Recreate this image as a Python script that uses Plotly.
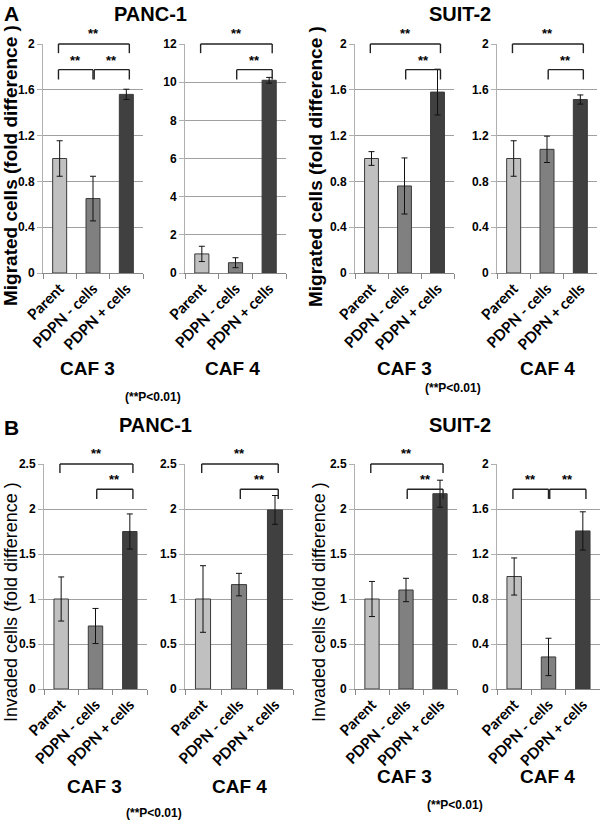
import plotly.graph_objects as go

# ---------------- data ----------------
categories = ["Parent", "PDPN - cells", "PDPN + cells"]
bar_colors = ["#c0c0c0", "#808080", "#404040"]

# A: migration
mig_panc_caf3 = [1.00, 0.65, 1.56]
mig_panc_caf3_err = [0.155, 0.195, 0.045]
mig_panc_caf4 = [1.00, 0.54, 10.10]
mig_panc_caf4_err = [0.40, 0.26, 0.15]
mig_suit_caf3 = [1.00, 0.76, 1.58]
mig_suit_caf3_err = [0.06, 0.245, 0.20]
mig_suit_caf4 = [1.00, 1.08, 1.515]
mig_suit_caf4_err = [0.155, 0.115, 0.04]

# B: invasion
inv_panc_caf3 = [1.00, 0.70, 1.75]
inv_panc_caf3_err = [0.245, 0.195, 0.195]
inv_panc_caf4 = [1.00, 1.16, 1.99]
inv_panc_caf4_err = [0.37, 0.125, 0.16]
inv_suit_caf3 = [1.00, 1.10, 2.17]
inv_suit_caf3_err = [0.195, 0.13, 0.15]
inv_suit_caf4 = [1.00, 0.285, 1.405]
inv_suit_caf4_err = [0.165, 0.166, 0.17]

y_max = [2, 12, 2, 2, 2.5, 2.5, 2.5, 2]
y_dtick = [0.4, 2, 0.4, 0.4, 0.5, 0.5, 0.5, 0.4]

# significance brackets: (from category, to category, level)
brackets = [
    [(0, 2, 0), (0, 1, 1), (1, 2, 1)],
    [(0, 2, 0), (1, 2, 1)],
    [(0, 2, 0), (1, 2, 1)],
    [(0, 2, 0), (1, 2, 1)],
    [(0, 2, 0), (1, 2, 1)],
    [(0, 2, 0), (1, 2, 1)],
    [(0, 2, 0), (1, 2, 1)],
    [(0, 1, 1), (1, 2, 1)],
]

values = [mig_panc_caf3, mig_panc_caf4, mig_suit_caf3, mig_suit_caf4,
          inv_panc_caf3, inv_panc_caf4, inv_suit_caf3, inv_suit_caf4]
errors = [mig_panc_caf3_err, mig_panc_caf4_err, mig_suit_caf3_err, mig_suit_caf4_err,
          inv_panc_caf3_err, inv_panc_caf4_err, inv_suit_caf3_err, inv_suit_caf4_err]

# ---------------- layout geometry (pixels) ----------------
W, H = 600, 822
x_px = [(43, 143), (185, 286), (355, 454), (497, 597),
        (44, 147), (185, 293), (355, 457), (497, 600)]
y_px_rows = [(44, 273), (464, 689)]


def fx(p):
    return p / W


def fy(p):
    return 1 - p / H


fig = go.Figure()
layout = {}
shapes = []
annotations = []

BOLD = "Liberation Sans"

for k in range(8):
    n = k + 1
    xs = "x" if n == 1 else f"x{n}"
    ys = "y" if n == 1 else f"y{n}"
    row = 0 if k < 4 else 1
    fig.add_trace(go.Bar(
        x=categories, y=values[k],
        error_y=dict(type="data", array=errors[k], color="#111111",
                     thickness=1, width=3),
        marker=dict(color=bar_colors, line=dict(color="#3a3a3a", width=1)),
        width=0.42, xaxis=xs, yaxis=ys, showlegend=False,
    ))
    x0, x1 = x_px[k]
    yt, yb = y_px_rows[row]
    layout[f"xaxis{n}"] = dict(
        domain=[fx(x0), fx(x1)], anchor=ys, type="category", automargin=False,
        tickson="boundaries", ticks="outside", ticklen=5, tickcolor="#888888",
        showline=True, linecolor="#888888", linewidth=1, tickangle=-45,
        showgrid=False,
        tickfont=dict(family="Lato", size=15, color="black", weight="bold"),
    )
    layout[f"yaxis{n}"] = dict(
        domain=[fy(yb), fy(yt)], anchor=xs, range=[0, y_max[k]], automargin=False,
        tick0=0, dtick=y_dtick[k], showgrid=True, gridcolor="#a0a0a0",
        gridwidth=1, showline=True, linecolor="#b0b0b0", ticks="outside",
        ticklen=5, tickcolor="#b0b0b0", zeroline=False,
        tickfont=dict(family=BOLD, size=12, color="black", weight="bold"),
    )
    # brackets in domain coordinates
    xr = f"{xs} domain"
    yr = f"{ys} domain"
    levels = {0: (1.0, 0.96, 1.045), 1: (0.888, 0.845, 0.93)}
    for (i, j, lev) in brackets[k]:
        h, d, s = levels[lev]
        xl = (i + 0.5) / 3
        xrr = (j + 0.5) / 3
        if i == 0:
            xl -= 0.012
        else:
            xl += 0.012
        if j == 2:
            xrr += 0.03
        for (ax0, ay0, ax1, ay1) in [(xl, d, xl, h), (xl, h, xrr, h), (xrr, h, xrr, d)]:
            shapes.append(dict(type="line", xref=xr, yref=yr, x0=ax0, y0=ay0,
                               x1=ax1, y1=ay1,
                               line=dict(color="#222222", width=1.4)))
        annotations.append(dict(xref=xr, yref=yr, x=(xl + xrr) / 2, y=s,
                                text="**", showarrow=False,
                                xanchor="center", yanchor="middle",
                                font=dict(family=BOLD, size=13, color="black",
                                          weight="bold")))


def txt(x, y, text, size, bold=True, angle=0):
    annotations.append(dict(
        xref="paper", yref="paper", x=fx(x), y=fy(y), text=text,
        showarrow=False, textangle=angle, xanchor="center", yanchor="middle",
        font=dict(family=BOLD, size=size, color="black",
                  weight="bold" if bold else "normal")))


# panel letters and titles
txt(11, 14, "A", 21)
txt(150, 14, "PANC-1", 20)
txt(460, 14, "SUIT-2", 20)
txt(11, 427, "B", 21)
txt(155, 425, "PANC-1", 20)
txt(460, 425, "SUIT-2", 20)

# y-axis titles
txt(11, 166, "Migrated cells (fold difference )", 19, angle=-90)
txt(316, 166, "Migrated cells (fold difference )", 19, angle=-90)
txt(11, 602, "Invaded cells (fold difference )", 18, bold=False, angle=-90)
txt(319, 602, "Invaded cells (fold difference )", 18, bold=False, angle=-90)

# group labels
txt(87, 369, "CAF 3", 19)
txt(232, 369, "CAF 4", 19)
txt(404, 369, "CAF 3", 19)
txt(547, 369, "CAF 4", 19)
txt(94, 786, "CAF 3", 19)
txt(239, 786, "CAF 4", 19)
txt(404, 776, "CAF 3", 19)
txt(547, 776, "CAF 4", 19)

# p-value notes
txt(153, 397, "(**P<0.01)", 12)
txt(453, 388, "(**P<0.01)", 12)
txt(154, 813, "(**P<0.01)", 12)
txt(455, 805, "(**P<0.01)", 12)

fig.update_layout(
    template="none",
    width=W, height=H, autosize=False,
    margin=dict(l=0, r=0, t=0, b=0, pad=0),
    paper_bgcolor="white", plot_bgcolor="white",
    shapes=shapes, annotations=annotations,
    showlegend=False,
    **layout,
)

fig.write_html("out.html",
               config={"displayModeBar": False},
               post_script="document.body.style.margin='0';document.body.style.overflow='hidden';")
